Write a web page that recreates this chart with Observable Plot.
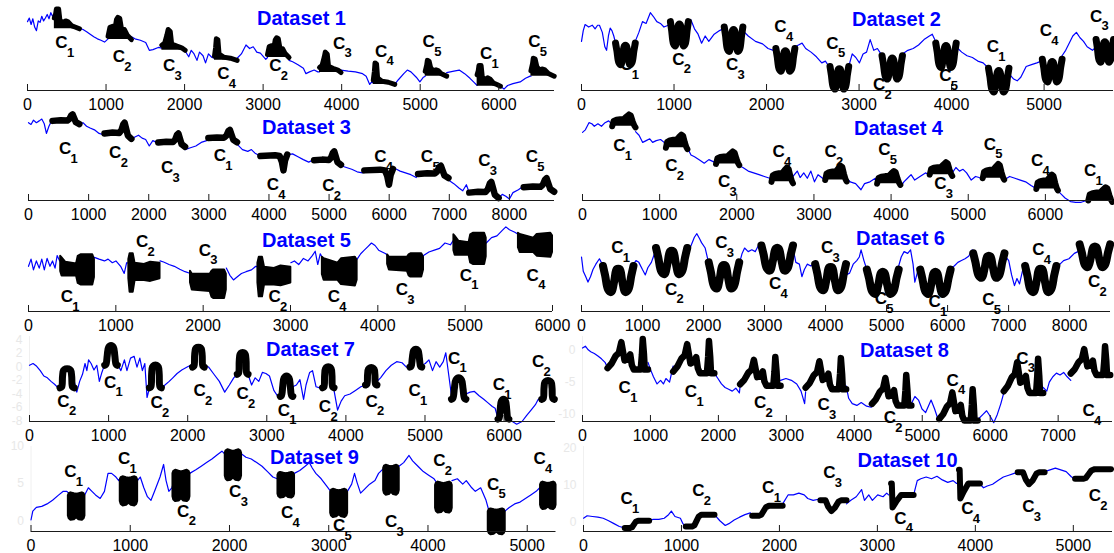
<!DOCTYPE html>
<html>
<head>
<meta charset="utf-8">
<script src="https://cdn.jsdelivr.net/npm/d3@7"></script>
<script src="https://cdn.jsdelivr.net/npm/@observablehq/plot@0.6"></script>
<style>
  html, body { margin: 0; padding: 0; background: #fff; }
  #chart { position: relative; width: 1114px; height: 553px; overflow: hidden; font-family: "Liberation Sans", Arial, sans-serif; }
  .panel { position: absolute; }
</style>
</head>
<body>
<div id="chart"></div>
<script>
// ---------- DATA ----------
const titles = ["Dataset 1","Dataset 2","Dataset 3","Dataset 4","Dataset 5","Dataset 6","Dataset 7","Dataset 8","Dataset 9","Dataset 10"];

const ticks1 = [0,1000,2000,3000,4000,5000,6000];
const ticks2 = [0,1000,2000,3000,4000,5000];
const ticks3 = [0,1000,2000,3000,4000,5000,6000,7000,8000];
const ticks4 = [0,1000,2000,3000,4000,5000,6000];
const ticks5 = [0,1000,2000,3000,4000,5000,6000];
const ticks6 = [0,1000,2000,3000,4000,5000,6000,7000,8000];
const ticks7 = [0,1000,2000,3000,4000,5000,6000];
const ticks8 = [0,1000,2000,3000,4000,5000,6000,7000];
const ticks9 = [0,1000,2000,3000,4000,5000];
const ticks10 = [0,1000,2000,3000,4000,5000];
const yTicks7 = [4,2,0,-2,-4,-6,-8];
const yTicks8 = [0,-5,-10];
const yTicks9 = [10,5,0];
const yTicks10 = [20,10,0];

const xMax = [6710,5750,8750,6870,6000,8670,6650,7800,5290,5400];
const yDom = [[0,237],[0,237],[0,237],[0,237],[0,237],[0,237],[-8.1,4.55],[-11.1,2.07],[-1.45,10],[-2.63,20.5]];

// blue series [x, y]
const line1 = [[0,192],[23,202],[46,184],[68,200],[91,177],[114,167],[137,194],[160,190],[182,207],[205,194],[228,202],[251,212],[274,200],[297,217],[319,207],[342,214],[661,174],[707,170],[753,164],[798,157],[844,150],[890,144],[935,140],[981,135],[1026,144],[1323,150],[1369,144],[1437,140],[1505,134],[1551,112],[1597,114],[1665,120],[1711,118],[2007,110],[2053,94],[2085,112],[2121,102],[2158,84],[2190,107],[2235,97],[2267,77],[2304,102],[2349,92],[2381,90],[2669,90],[2723,102],[2782,127],[2828,117],[2874,122],[2919,107],[2965,104],[3034,87],[3056,92],[3330,84],[3376,80],[3444,72],[3513,62],[3545,47],[3591,52],[3650,57],[3696,52],[3718,52],[3992,57],[4083,54],[4175,52],[4266,47],[4312,40],[4357,17],[4394,27],[4403,20],[4676,17],[4722,30],[4791,47],[4836,57],[4882,52],[4950,37],[4996,24],[5041,37],[5064,40],[5337,50],[5429,54],[5497,57],[5566,47],[5634,34],[5689,22],[5725,14],[6021,12],[6067,4],[6113,14],[6181,19],[6273,24],[6341,34],[6400,40],[6410,40],[6706,44]];
const line2 = [[0,137],[19,167],[39,184],[78,177],[116,182],[147,172],[174,182],[194,182],[225,162],[252,122],[271,112],[291,152],[310,174],[329,167],[349,152],[368,132],[581,137],[620,162],[659,192],[698,187],[744,217],[775,207],[814,192],[853,187],[891,177],[938,182],[961,190],[1155,187],[1182,197],[1221,172],[1260,157],[1298,132],[1337,152],[1376,137],[1434,157],[1492,167],[1531,172],[1543,175],[1744,167],[1802,152],[1880,137],[1957,130],[2016,117],[2074,112],[2101,115],[2306,122],[2345,127],[2384,132],[2423,117],[2481,107],[2539,94],[2597,77],[2636,82],[2675,67],[2686,65],[2888,67],[2926,102],[2965,92],[3004,77],[3043,102],[3081,107],[3120,142],[3159,112],[3198,117],[3236,102],[3248,97],[3469,102],[3527,112],[3585,117],[3643,127],[3702,142],[3760,152],[3791,157],[3818,142],[3829,132],[4050,122],[4109,107],[4167,97],[4225,92],[4283,82],[4341,77],[4380,67],[4399,62],[4620,47],[4671,32],[4709,27],[4748,37],[4806,67],[4864,72],[4922,77],[4969,82],[4981,87],[5194,97],[5233,112],[5271,132],[5310,152],[5349,162],[5388,147],[5426,137],[5465,122],[5523,112],[5562,122],[5750,142]];
const line3 = [[0,217],[42,212],[83,224],[131,217],[179,222],[221,227],[262,214],[298,187],[340,207],[382,222],[399,222],[846,212],[906,217],[966,207],[1025,202],[1097,197],[1174,187],[1234,184],[1264,187],[1711,172],[1770,177],[1830,182],[1890,174],[1949,170],[2009,152],[2068,167],[2128,162],[2158,162],[2605,142],[2694,147],[2784,152],[2873,162],[2963,167],[2992,174],[3469,157],[3559,142],[3648,137],[3708,142],[3768,132],[3857,124],[4304,127],[4393,130],[4483,122],[4572,114],[4662,107],[4721,112],[4751,112],[5198,97],[5288,92],[5377,87],[5467,80],[5556,77],[5586,84],[6063,90],[6122,87],[6182,82],[6271,77],[6360,72],[6450,64],[6480,74],[6986,57],[7075,47],[7165,34],[7224,27],[7284,44],[7332,22],[7821,7],[7881,17],[7940,12],[8000,4],[8059,22],[8149,30],[8208,37],[8238,37],[8745,22]];
const line4 = [[0,190],[37,197],[84,217],[121,214],[153,207],[200,214],[246,207],[292,217],[339,222],[362,217],[385,212],[687,192],[733,182],[780,162],[826,167],[872,172],[909,162],[956,167],[1012,170],[1058,162],[1081,150],[1360,147],[1406,127],[1452,122],[1522,112],[1578,104],[1638,114],[1708,107],[1731,105],[2032,97],[2079,92],[2148,82],[2218,77],[2288,72],[2357,67],[2427,62],[2450,55],[2728,67],[2784,82],[2821,64],[2868,77],[2914,62],[2960,82],[3007,52],[3053,72],[3100,64],[3137,57],[3146,57],[3424,62],[3470,52],[3540,47],[3610,30],[3656,47],[3726,52],[3796,62],[3819,50],[4120,37],[4166,52],[4213,62],[4259,72],[4306,57],[4375,67],[4445,77],[4491,72],[4501,72],[4793,77],[4840,92],[4886,82],[4933,87],[4979,77],[5039,57],[5095,67],[5141,64],[5188,62],[5466,57],[5536,67],[5605,62],[5675,57],[5744,52],[5814,42],[5874,34],[5883,32],[6162,27],[6208,17],[6255,7],[6325,-3],[6394,-5],[6464,-5],[6533,0],[6556,2],[6867,0]];
const line5 = [[0,126],[29,146],[57,116],[90,141],[123,121],[152,146],[181,116],[213,148],[246,126],[275,141],[304,121],[328,156],[357,141],[369,140],[755,151],[808,146],[870,141],[911,146],[960,136],[1001,141],[1055,126],[1096,106],[1124,136],[1149,135],[1506,141],[1547,138],[1609,131],[1670,126],[1732,118],[1793,111],[1855,106],[2265,121],[2306,101],[2347,88],[2388,96],[2438,106],[2491,111],[2553,116],[2602,126],[2627,125],[3004,136],[3045,141],[3094,131],[3148,148],[3201,141],[3250,156],[3283,168],[3312,131],[3341,161],[3365,150],[3763,146],[3804,161],[3845,171],[3886,181],[3927,191],[3968,184],[4009,171],[4050,166],[4091,161],[4112,156],[4523,156],[4585,166],[4647,171],[4707,176],[4769,191],[4831,186],[4859,196],[4871,200],[5241,191],[5302,206],[5364,211],[5425,226],[5466,236],[5507,228],[5569,221],[5610,215],[6000,200]];
const line6 = [[0,152],[29,112],[70,97],[106,82],[147,97],[188,117],[235,132],[294,147],[341,132],[352,127],[852,132],[893,142],[940,137],[999,117],[1046,102],[1087,122],[1145,137],[1187,157],[1222,172],[1733,167],[1791,182],[1850,207],[1891,217],[1938,202],[1967,192],[2027,177],[2085,134],[2585,132],[2632,162],[2673,177],[2732,167],[2791,172],[2849,167],[2908,187],[2949,182],[3466,177],[3513,137],[3571,132],[3612,97],[3653,117],[3700,132],[3759,127],[3818,137],[3830,130],[4335,102],[4394,107],[4453,132],[4511,142],[4553,152],[4582,172],[4629,142],[4676,117],[5199,127],[5240,152],[5287,167],[5346,162],[5393,172],[5434,132],[5463,82],[5510,112],[5551,117],[6050,122],[6109,127],[6168,137],[6227,142],[6286,147],[6345,154],[6404,172],[6421,165],[6932,157],[7002,142],[7049,102],[7096,72],[7137,92],[7179,77],[7226,112],[7271,137],[7783,122],[7842,132],[7901,142],[7989,147],[8077,162],[8136,167],[8165,180],[8664,185]];
const line7 = [[0,0.27],[45,0.53],[91,0.11],[136,-0.53],[181,-1.33],[226,-1.6],[272,-2.13],[317,-2.56],[362,-3.09],[385,-3.09],[566,-2.13],[598,-3.73],[634,-2.13],[670,-1.07],[702,0.53],[725,-0.53],[747,1.07],[779,0.53],[815,-0.43],[851,0.27],[883,-2.13],[915,-0.8],[942,0.11],[951,0.27],[1110,0.53],[1155,-0.53],[1200,1.07],[1232,-0.53],[1277,1.33],[1323,1.6],[1359,0],[1395,1.33],[1427,-0.53],[1458,0.53],[1486,-4.53],[1517,-3.09],[1667,-3.47],[1712,-2.67],[1766,-2.13],[1812,-1.6],[1866,-0.96],[1925,-0.43],[1993,0],[2038,0.27],[2061,0],[2210,0.27],[2265,0],[2332,-1.07],[2400,-2.13],[2468,-3.73],[2527,-2.67],[2582,-1.6],[2627,-1.07],[2763,-1.07],[2808,-2.67],[2853,-1.6],[2899,-2.13],[2944,-0.8],[2989,-0.96],[3034,-1.33],[3089,-3.47],[3134,-4.27],[3170,-4.37],[3329,-2.93],[3374,-2.67],[3419,-1.87],[3465,-4.8],[3496,-2.67],[3542,-0.8],[3578,-0.53],[3623,-2.93],[3669,-3.09],[3705,-3.09],[3850,-3.47],[3895,-6.4],[3940,-5.07],[3985,-4.27],[4053,-4],[4121,-3.47],[4189,-2.93],[4248,-2.67],[4393,-2.13],[4438,-1.6],[4506,-0.53],[4574,0.27],[4642,0.8],[4710,0.64],[4765,0],[4810,0],[4959,0.27],[5004,0.53],[5050,1.07],[5095,-0.53],[5140,0.8],[5186,0],[5231,0.8],[5263,2.13],[5299,-1.07],[5335,-4.27],[5517,-4],[5571,-3.73],[5625,-3.63],[5684,-4.27],[5743,-4.8],[5797,-5.33],[5851,-5.87],[5887,-6.13],[5924,-7.73],[6060,-7.73],[6105,-8.1],[6159,-8.5],[6227,-8.1],[6286,-7.2],[6341,-6.4],[6396,-5.6],[6432,-4.8],[6476,-4.8]];
const line8 = [[0,0.28],[42,0.56],[84,0],[121,-0.28],[174,-0.56],[227,-0.94],[279,-1.39],[332,-1.94],[358,-2.5],[369,-3.06],[964,-1.94],[1001,-3.06],[1044,-4.17],[1097,-5.28],[1149,-4.72],[1191,-5.28],[1228,-4.44],[1281,-5],[1334,-2.5],[1940,-3.61],[1993,-4.44],[2045,-5.28],[2098,-5.83],[2151,-6.11],[2204,-6.39],[2256,-5.94],[2309,-6.67],[2320,-5.56],[2915,-4.72],[2994,-4.44],[3074,-4.72],[3153,-5.28],[3216,-6.39],[3269,-8.33],[3284,-6.5],[3880,-5.56],[3917,-7.5],[3970,-8.33],[4038,-8.61],[4102,-8.17],[4181,-8.72],[4249,-8.89],[4260,-8.61],[4840,-8.33],[4892,-7.22],[4945,-7.78],[4997,-9.17],[5050,-9.72],[5130,-7.78],[5182,-9.17],[5235,-10.83],[5251,-10.94],[5815,-10.83],[5894,-10],[5947,-9.44],[6000,-10.28],[6052,-11.28],[6105,-10],[6157,-8.33],[6200,-6.67],[6780,-5.83],[6833,-6.39],[6870,-5],[6922,-4.17],[6975,-3.61],[7028,-3.89],[7081,-3.5],[7133,-4.17],[7186,-4.72]];
const line9 = [[0,0.1],[18,1.3],[54,1.79],[108,1.93],[162,2.27],[217,2.75],[271,3.38],[325,3.96],[361,3.96],[379,3.72],[541,3.48],[578,4.44],[614,3.96],[650,3.48],[697,3.0],[740,3.96],[776,6.38],[812,6.38],[856,5.89],[884,5.41],[902,5.8],[1072,5.41],[1101,5.89],[1137,4.44],[1173,3.24],[1209,2.75],[1245,3.96],[1300,5.89],[1336,7.58],[1361,5.41],[1389,3.96],[1419,4.44],[1433,5],[1599,6.38],[1661,6.86],[1715,7.34],[1769,7.83],[1823,8.31],[1877,8.89],[1924,9.37],[1949,9.03],[1960,9.2],[2119,9.03],[2166,8.55],[2220,8.31],[2274,7.83],[2328,7.34],[2383,6.62],[2437,5.89],[2480,5.65],[2491,5.7],[2653,6.38],[2708,6.76],[2762,7.34],[2805,7.83],[2834,7.1],[2870,6.38],[2924,5.65],[2978,4.69],[3014,4.06],[3022,4.1],[3188,3.96],[3231,4.93],[3260,6.38],[3285,5.17],[3321,3.72],[3357,4.2],[3412,4.93],[3466,5.41],[3502,6.38],[3538,6.86],[3556,7],[3708,7.34],[3755,7.83],[3809,8.79],[3845,8.07],[3899,7.34],[3953,6.62],[4007,6.14],[4061,5.65],[4079,5.3],[4242,5.41],[4296,5.65],[4350,4.93],[4386,5.41],[4441,4.44],[4477,3.96],[4531,4.44],[4585,2.75],[4610,1.55],[4776,1.3],[4819,1.79],[4873,2.27],[4928,2.51],[4982,3.0],[5036,3.48],[5090,3.96],[5126,4.44],[5137,4.5]];
const line10 = [[0,0.98],[37,1.66],[92,1.46],[147,1.27],[201,0.98],[256,0.29],[311,-0.49],[366,-1.27],[421,-1.66],[670,0.49],[714,0.68],[769,0.68],[824,0.98],[868,1.95],[897,2.93],[934,1.46],[989,0.98],[1015,-0.49],[1044,-1.27],[1337,1.95],[1392,0.29],[1447,-0.98],[1484,-0.49],[1538,0.49],[1593,1.27],[1648,1.95],[1703,2.44],[1722,1.66],[2033,4.88],[2088,7.32],[2143,7.32],[2198,7.8],[2253,7.32],[2289,6.34],[2344,5.85],[2399,6.15],[2418,5.85],[2685,4.88],[2729,5.85],[2784,6.83],[2839,8.78],[2868,5.85],[2912,7.32],[2949,5.85],[3003,7.32],[3058,6.83],[3095,7.8],[3114,7.32],[3370,7.32],[3407,11.22],[3443,11.71],[3498,12.2],[3553,11.71],[3608,12.39],[3663,11.41],[3718,10.73],[3773,11.22],[3809,10.44],[4047,10.24],[4084,9.27],[4121,9.76],[4176,10.24],[4231,11.22],[4286,12.2],[4341,12.68],[4396,13.17],[4432,13.46],[4707,13.66],[4762,14.15],[4817,14.63],[4872,14.15],[4927,13.66],[4982,12.2],[5018,11.71]];

// motif occurrences: [class, start, end, base, peak]
const motifs1 = [["1",342,661,172,227],["2",1026,1323,142,204],["3",1711,2007,112,170],["4",2381,2669,84,144],["2",3056,3330,92,147],["3",3718,3992,50,107],["4",4403,4676,17,77],["5",5064,5337,40,84],["1",5725,6021,12,70],["5",6410,6706,40,90]];
const motifs2 = [["1",368,581,70,132],["2",961,1155,122,192],["3",1543,1744,107,177],["4",2101,2306,52,117],["5",2686,2888,2,67],["2",3248,3469,30,97],["5",3829,4050,62,132],["1",4399,4620,-6,62],["4",4981,5194,22,87],["3",5562,5750,77,142]];
const motifs3 = [["1",399,846,222,240],["2",1264,1711,187,217],["3",2158,2605,162,187],["1",2992,3469,174,197],["4",3857,4304,124,164],["2",4751,5198,112,137],["4",5586,6063,84,124],["5",6480,6986,74,97],["3",7332,7821,22,52],["5",8238,8745,37,62]];
const motifs4 = [["1",385,687,207,240],["2",1081,1360,147,184],["3",1731,2032,102,137],["4",2450,2728,52,92],["2",3146,3424,57,97],["5",3819,4120,47,82],["3",4501,4793,72,107],["5",5188,5466,62,102],["4",5883,6162,32,72],["1",6556,6867,0,37]];
const motifs5 = [["1",369,755,74,158],["2",1149,1506,54,161],["3",1855,2265,36,116],["2",2627,3004,41,151],["4",3365,3763,71,151],["3",4112,4523,96,161],["1",4871,5241,131,218],["4",5610,6000,151,218]];
const motifs6 = [["1",352,852,52,127],["2",1222,1733,102,177],["3",2085,2585,62,137],["4",2949,3466,112,184],["3",3830,4335,57,132],["5",4676,5199,47,117],["1",5551,6050,47,117],["5",6421,6932,92,162],["4",7271,7783,52,127],["2",8165,8664,122,187]];
const motifs7 = [["2",385,566,-3.09,-0.27],["1",951,1110,0.27,3.2],["2",1517,1667,-3.09,0.27],["2",2061,2210,0,2.93],["2",2627,2763,-1.07,2.13],["1",3170,3329,-4.37,-1.33],["2",3705,3850,-3.09,0],["2",4248,4393,-2.67,-0.11],["1",4810,4959,0,2.67],["1",5335,5517,-4.8,-1.6],["1",5924,6060,-7.73,-4.8],["2",6476,6635,-4.8,-2.03]];
const motifs8 = [["1",369,964,-3.06,1.67],["1",1334,1940,-3.61,1.39],["2",2320,2915,-5.56,-1.1],["3",3284,3880,-6.11,-1.28],["2",4260,4840,-8.61,-3.89],["4",5251,5815,-10.94,-6.11],["3",6200,6780,-6.67,-1.39],["4",7186,7766,-3.89,0.56]];
const motifs9 = [["1",379,541,0.1,3.72],["1",902,1072,2.03,5.89],["2",1433,1599,2.61,6.76],["3",1960,2119,5.41,9.52],["4",2491,2653,3.09,6.47],["5",3022,3188,0.48,4.2],["3",3556,3708,3.48,7.44],["2",4079,4242,1.06,5.17],["5",4610,4776,-1.84,1.55],["4",5137,5288,1.55,5.17]];
const motifs10 = [["1",421,670,-1.66,0.29],["2",1044,1337,-1.27,1.95],["1",1722,2033,1.66,4.39],["3",2418,2685,5.85,8.78],["4",3114,3370,7.32,10.44],["4",3809,4047,10.44,14.15],["3",4432,4707,13.46,16.68],["2",5018,5385,11.71,14.34]];

// motif shape templates: [t, v] (or [t, low, high] for dense motifs)
const shapeW = [[0,1],[0.07,0.65],[0.17,0.12],[0.27,0.03],[0.37,0.45],[0.45,0.88],[0.55,0.88],[0.63,0.45],[0.73,0.03],[0.83,0.12],[0.93,0.65],[1,1]];
const shapes1 = {
  "1": [[0,0.55],[0.05,0.75],[0.08,1],[0.17,1],[0.22,0.45],[0.32,0.3],[0.45,0.4],[0.55,0.35],[0.7,0.15],[0.85,0.08],[1,0]],
  "2": [[0,0.15],[0.08,0.55],[0.2,0.6],[0.3,0.5],[0.36,0.9],[0.42,1],[0.5,0.95],[0.58,0.45],[0.7,0.45],[0.82,0.2],[1,0]],
  "3": [[0,0.25],[0.12,0.35],[0.22,0.75],[0.27,1],[0.36,0.9],[0.42,0.3],[0.65,0.2],[0.85,0.12],[1,0]],
  "4": [[0,0.2],[0.05,0.6],[0.08,1],[0.15,0.95],[0.2,0.3],[0.4,0.15],[0.7,0.1],[1,0]],
  "5": [[0,0.3],[0.07,0.7],[0.1,1],[0.18,0.95],[0.25,0.55],[0.35,0.35],[0.5,0.4],[0.6,0.35],[0.75,0.15],[1,0]]
};
const shapes2 = {all: shapeW};
const shapes3 = {
  all: [[0,0],[0.3,0.08],[0.55,0.05],[0.63,0.3],[0.7,0.85],[0.75,1],[0.8,0.5],[0.87,-0.2],[1,-0.5]],
  "4": [[0,0],[0.55,0.05],[0.72,0],[0.8,-0.4],[0.86,-1],[0.92,-0.3],[1,0.1]]
};
const shapes4 = {all: [[0,0],[0.06,0.45],[0.18,0.55],[0.35,0.6],[0.5,0.62],[0.6,0.8],[0.72,1],[0.8,0.9],[0.88,0.4],[0.95,0.05],[1,-0.1]]};
const shapes5 = {
  "1": [[0,0.45,0.95],[0.04,0.3,0.9],[0.15,0.3,0.75],[0.47,0.3,0.7],[0.52,0.05,0.95],[0.6,0,1],[0.95,0,1],[1,0.25,0.85]],
  "2": [[0,0.35,0.85],[0.04,0,1],[0.14,0,1],[0.2,0.3,0.75],[0.5,0.3,0.72],[0.7,0.28,0.78],[1,0.35,0.75]],
  "3": [[0,0.55,0.95],[0.05,0.3,0.85],[0.55,0.25,0.85],[0.6,0.05,0.95],[0.65,0,1],[0.95,0,1],[1,0.3,0.85]],
  "4": [[0,0.4,1],[0.05,0.2,0.95],[0.45,0.2,0.8],[0.55,0.05,0.95],[0.95,0,1],[1,0.2,0.9]]
};
const shapes6 = {all: shapeW};
const shapes7 = {
  "1": [[0,0],[0.1,0.05],[0.2,0.5],[0.3,0.9],[0.5,1],[0.7,0.9],[0.8,0.5],[0.9,0.05],[1,0]],
  "2": [[0,0],[0.12,0.05],[0.18,0.6],[0.25,0.92],[0.4,1],[0.6,1],[0.75,0.92],[0.82,0.6],[0.88,0.05],[1,0]]
};
const shapes8 = {all: [[0,0.05],[0.1,0.2],[0.2,0.45],[0.28,0.55],[0.34,0.9],[0.38,0.6],[0.42,0.3],[0.5,0.35],[0.56,0.5],[0.6,0.15],[0.65,0],[0.82,0],[0.85,0.5],[0.87,1],[0.9,0.5],[0.92,0],[1,0]]};
const shapes9 = {all: [[0,0.15,0.9],[0.05,0.05,0.97],[0.15,0,1],[0.35,0.02,0.97],[0.5,0.1,0.95],[0.65,0.02,0.97],[0.85,0,1],[0.95,0.05,0.97],[1,0.15,0.9]]};
const shapes10 = {
  "1": [[0,0],[0.22,0],[0.3,0.1],[0.38,0.5],[0.45,0.85],[0.55,1],[1,1]],
  "2": [[0,0],[0.22,0],[0.3,0.1],[0.38,0.5],[0.45,0.85],[0.55,1],[1,1]],
  "3": [[0,0],[0.2,0],[0.3,-0.6],[0.42,-1],[0.55,-0.7],[0.7,-0.1],[0.8,0],[1,0]],
  "4": [[0.1,1],[0.13,1],[0.16,-1.1],[0.3,-0.6],[0.5,0],[1,0]]
};

// motif labels: [subscript, x, y]
const labels1 = [["1",433,134],["2",1163,94],["3",1802,70],["4",2495,47],["2",3157,70],["3",3969,132],["4",4503,110],["5",5109,137],["1",5839,102],["5",6455,137]];
const labels2 = [["1",484,72],["2",1047,87],["3",1628,72],["4",2151,177],["5",2713,132],["2",3217,17],["5",3934,42],["1",4446,122],["4",5019,167],["3",5562,207]];
const labels3 = [["1",608,144],["2",1443,134],["3",2307,92],["1",3183,124],["4",4066,44],["2",4990,42],["4",5854,122],["5",6629,122],["3",7582,112],["5",8375,122]];
const labels4 = [["1",478,152],["2",1151,97],["3",1837,52],["4",2543,137],["2",3215,137],["5",3912,142],["3",4640,47],["5",5280,157],["4",5893,112],["1",6580,84]];
const labels5 = [["1",439,41],["2",1301,194],["3",2019,171],["2",2819,41],["4",3497,41],["3",4276,61],["1",5007,101],["4",5774,101]];
const labels6 = [["1",587,177],["2",1469,62],["3",2291,192],["4",3172,77],["3",4024,177],["5",4905,36],["1",5786,28],["5",6667,32],["4",7489,172],["2",8400,84]];
const labels7 = [["2",430,-5.07],["1",1019,-2.24],["2",1608,-5.33],["2",2151,-3.47],["2",2695,-4],["1",3216,-6.4],["2",3736,-5.87],["2",4325,-5.07],["1",4869,-3.47],["1",5367,1.33],["1",5933,-2.67],["2",6431,0.8]];
const labels8 = [["1",622,-5.83],["1",1597,-6.5],["2",2615,-8.17],["3",3548,-8.5],["2",4523,-10.56],["4",5446,-4.72],["3",6474,-1.28],["4",7450,-9.44]];
const labels9 = [["1",397,6.62],["1",939,8.31],["2",1534,1.3],["3",2058,3.96],["4",2581,1.06],["5",3105,-0.63],["3",3628,-0.14],["2",4115,8.07],["5",4657,4.93],["4",5126,8.31]];
const labels10 = [["1",440,6.34],["2",1172,8.49],["1",1886,9.27],["3",2509,13.37],["4",3234,0.98],["4",3919,3.61],["3",4542,4.2],["2",5220,7.12]];

// ---------- LAYOUT ----------
const PH = 110, MT = 3, MB = 22, INNER = PH - MT - MB;
const panels = [
  {line: line1, motifs: motifs1, shapes: shapes1, labels: labels1, ticks: ticks1, kind: "area", sw: 5, left: 0, w: 557, top: 2, mL: 27, mR: 3, tx: 301, ty: 18},
  {line: line2, motifs: motifs2, shapes: shapes2, labels: labels2, ticks: ticks2, kind: "line", sw: 7, curve: "catmull-rom", left: 556, w: 558, top: 2, mL: 25, mR: 1, tx: 896, ty: 19},
  {line: line3, motifs: motifs3, shapes: shapes3, labels: labels3, ticks: ticks3, kind: "line", sw: 6.5, left: 0, w: 557, top: 112, mL: 28, mR: 3, tx: 306, ty: 127},
  {line: line4, motifs: motifs4, shapes: shapes4, labels: labels4, ticks: ticks4, kind: "area", sw: 6, left: 556, w: 558, top: 112, mL: 26, mR: 2, tx: 898, ty: 128},
  {line: line5, motifs: motifs5, shapes: shapes5, labels: labels5, ticks: ticks5, kind: "band", sw: 2, left: 0, w: 557, top: 223, mL: 28, mR: 5, tx: 306, ty: 240},
  {line: line6, motifs: motifs6, shapes: shapes6, labels: labels6, ticks: ticks6, kind: "line", sw: 8, curve: "catmull-rom", left: 556, w: 558, top: 223, mL: 25, mR: 4, tx: 900, ty: 238},
  {line: line7, motifs: motifs7, shapes: shapes7, labels: labels7, ticks: ticks7, yTicks: yTicks7, kind: "line", sw: 7, curve: "catmull-rom", left: 0, w: 557, top: 333, mL: 29, mR: 2, tx: 310, ty: 349},
  {line: line8, motifs: motifs8, shapes: shapes8, labels: labels8, ticks: ticks8, yTicks: yTicks8, kind: "line", sw: 6.5, left: 556, w: 558, top: 333, mL: 26, mR: 2, tx: 904, ty: 350},
  {line: line9, motifs: motifs9, shapes: shapes9, labels: labels9, ticks: ticks9, yTicks: yTicks9, kind: "band", sw: 2.5, left: 0, w: 557, top: 443, mL: 30.5, mR: 1.5, tx: 314, ty: 457},
  {line: line10, motifs: motifs10, shapes: shapes10, labels: labels10, ticks: ticks10, yTicks: yTicks10, kind: "line", sw: 6, left: 556, w: 558, top: 443, mL: 27, mR: 2, tx: 907, ty: 460}
];

const FONT = "Liberation Sans, Arial, Helvetica, sans-serif";
const root = document.getElementById("chart");
const plain = d => String(d);

panels.forEach((p, i) => {
  const ends = p.motifs.map(m => m[2]);
  const blue = p.line.map(([x, y]) => ({x, y, seg: ends.filter(e => e <= x).length}));

  const pts = [];
  p.motifs.forEach((m, k) => {
    const [cls, x0, x1, base, peak] = m;
    const tpl = p.shapes[cls] || p.shapes.all;
    const amp = peak - base;
    tpl.forEach(r => {
      const x = x0 + r[0] * (x1 - x0);
      if (p.kind === "band") pts.push({id: k, x, lo: base + r[1] * amp, hi: base + r[2] * amp});
      else pts.push({id: k, x, y: base + r[1] * amp, base});
    });
  });

  const marks = [];
  if (p.yTicks) {
    marks.push(Plot.ruleX([0], {stroke: "#f0f0f0"}));
    marks.push(Plot.axisY(p.yTicks, {tickSize: 0, tickPadding: 7, fontSize: 12, color: "#e8e8e8", tickFormat: plain, label: null}));
  }
  marks.push(Plot.line(blue, {x: "x", y: "y", z: "seg", stroke: "#0000ff", strokeWidth: 1.2}));
  if (p.kind === "area") {
    marks.push(Plot.areaY(pts, {x: "x", y1: "base", y2: "y", z: "id", fill: "black"}));
    marks.push(Plot.line(pts, {x: "x", y: "y", z: "id", stroke: "black", strokeWidth: p.sw, strokeLinejoin: "round", strokeLinecap: "round"}));
  } else if (p.kind === "band") {
    marks.push(Plot.areaY(pts, {x: "x", y1: "lo", y2: "hi", z: "id", fill: "black", stroke: "black", strokeWidth: p.sw, strokeLinejoin: "round"}));
  } else {
    marks.push(Plot.line(pts, {x: "x", y: "y", z: "id", stroke: "black", strokeWidth: p.sw, curve: p.curve || "linear", strokeLinejoin: "round", strokeLinecap: "round"}));
  }
  marks.push(Plot.ruleY([yDom[i][0]], {stroke: "#1a1a1a", strokeWidth: 1}));
  marks.push(Plot.tickX(p.ticks, {x: d => d, stroke: "#1a1a1a", insetTop: INNER - 6}));
  marks.push(Plot.axisX(p.ticks, {tickSize: 0, tickPadding: 8, fontSize: 16, color: "black", tickFormat: plain, label: null}));
  marks.push(Plot.text(p.labels, {x: d => d[1], y: d => d[2], text: () => "C", fontSize: 17, fontWeight: "bold", fill: "black", lineAnchor: "middle"}));
  marks.push(Plot.text(p.labels, {x: d => d[1], y: d => d[2], text: d => d[0], fontSize: 13, fontWeight: "bold", fill: "black", dx: 9, dy: 10, lineAnchor: "middle"}));
  marks.push(Plot.text([titles[i]], {frameAnchor: "top-left", text: d => d, dx: p.tx - p.left - p.mL, dy: p.ty - p.top - MT, fontSize: 20, fontWeight: "bold", fill: "#0000ff", textAnchor: "middle", lineAnchor: "middle"}));

  const svg = Plot.plot({
    width: p.w, height: PH,
    marginLeft: p.mL, marginRight: p.mR, marginTop: MT, marginBottom: MB,
    x: {domain: [0, xMax[i]], label: null},
    y: {domain: yDom[i], axis: null, label: null},
    style: {background: "transparent", overflow: "visible", fontFamily: FONT},
    marks
  });
  const div = document.createElement("div");
  div.className = "panel";
  div.style.left = p.left + "px";
  div.style.top = p.top + "px";
  div.appendChild(svg);
  root.appendChild(div);
});
</script>
</body>
</html>
